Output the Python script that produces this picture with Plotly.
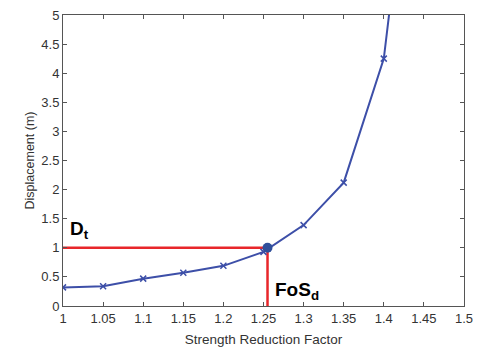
import plotly.graph_objects as go

srf = [1.0, 1.05, 1.1, 1.15, 1.2, 1.25, 1.3, 1.35, 1.4, 1.45]
disp = [0.32, 0.34, 0.47, 0.57, 0.69, 0.93, 1.39, 2.12, 4.25, 10.0]
fos_d = 1.255
d_t = 1.0
x_ticks = [1, 1.05, 1.1, 1.15, 1.2, 1.25, 1.3, 1.35, 1.4, 1.45, 1.5]
y_ticks = [0, 0.5, 1, 1.5, 2, 2.5, 3, 3.5, 4, 4.5, 5]

FONT = "Liberation Sans, Arial"

fig = go.Figure()
fig.add_trace(go.Scatter(x=[1.0, fos_d], y=[d_t, d_t], mode="lines",
                         line=dict(color="#e8262a", width=2.5), hoverinfo="skip", cliponaxis=False))
fig.add_trace(go.Scatter(x=[fos_d, fos_d], y=[0, d_t], mode="lines",
                         line=dict(color="#e8262a", width=2.5), hoverinfo="skip", cliponaxis=False))
fig.add_trace(go.Scatter(x=srf, y=disp, mode="lines+markers",
                         line=dict(color="#3d4fa8", width=2),
                         marker=dict(symbol="x-thin", size=6, color="#3d4fa8",
                                     line=dict(color="#3d4fa8", width=1.5))))
fig.add_trace(go.Scatter(x=[fos_d], y=[d_t], mode="markers",
                         marker=dict(symbol="circle", size=10, color="#2f4f9a")))

fig.add_annotation(x=1.006, y=1.06, xref="x", yref="y", xanchor="left", yanchor="bottom",
                   text="<b>D<sub>t</sub></b>", showarrow=False,
                   font=dict(family=FONT, size=19, color="black"))
fig.add_annotation(x=1.262, y=0.02, xref="x", yref="y", xanchor="left", yanchor="bottom",
                   text="<b>FoS<sub>d</sub></b>", showarrow=False,
                   font=dict(family=FONT, size=19, color="black"))

axis_common = dict(showgrid=False, zeroline=False, showline=True, linecolor="#555555",
                   linewidth=1, mirror="ticks", ticks="inside", ticklen=4, automargin=False,
                   tickcolor="#555555", tickfont=dict(family=FONT, size=13, color="#333333"))
fig.update_xaxes(range=[1, 1.5], tickvals=x_ticks, ticktext=[str(v) for v in x_ticks],
                 title=dict(text="Strength Reduction Factor", standoff=9,
                            font=dict(family=FONT, size=13.5, color="#333333")),
                 **axis_common)
fig.update_yaxes(range=[0, 5], tickvals=y_ticks, ticktext=[str(v) for v in y_ticks],
                 title=dict(text="Displacement (m)", standoff=3,
                            font=dict(family=FONT, size=12.5, color="#333333")),
                 **axis_common)
fig.update_layout(width=477, height=349, margin=dict(l=63, r=13, t=15, b=43),
                  plot_bgcolor="white", paper_bgcolor="white", showlegend=False)
fig.write_html("out.html")
